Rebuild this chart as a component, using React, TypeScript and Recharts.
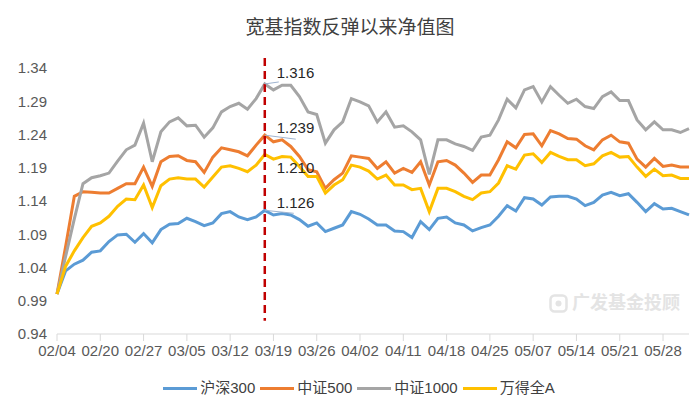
import React from 'react';
import { LineChart, Line, XAxis, YAxis, Legend, ReferenceLine, ReferenceDot } from 'recharts';

const FONT = '"Liberation Sans", "Noto Sans CJK SC", Arial, sans-serif';

const dates = [
  '02/04', '02/05', '02/06', '02/07', '02/19', '02/20', '02/21', '02/22', '02/23', '02/26',
  '02/27', '02/28', '02/29', '03/01', '03/04', '03/05', '03/06', '03/07', '03/08', '03/11',
  '03/12', '03/13', '03/14', '03/15', '03/18', '03/19', '03/20', '03/21', '03/22', '03/25',
  '03/26', '03/27', '03/28', '03/29', '04/01', '04/02', '04/03', '04/08', '04/09', '04/10',
  '04/11', '04/12', '04/15', '04/16', '04/17', '04/18', '04/19', '04/22', '04/23', '04/24',
  '04/25', '04/26', '04/29', '04/30', '05/06', '05/07', '05/08', '05/09', '05/10', '05/13',
  '05/14', '05/15', '05/16', '05/17', '05/20', '05/21', '05/22', '05/23', '05/24', '05/27',
  '05/28', '05/29', '05/30', '05/31',
];

const tickLabels = [
  '02/04', '02/20', '02/27', '03/05', '03/12', '03/19', '03/26', '04/02',
  '04/11', '04/18', '04/25', '05/07', '05/14', '05/21', '05/28',
];

const yTicks = [0.94, 0.99, 1.04, 1.09, 1.14, 1.19, 1.24, 1.29, 1.34];

const hs300 = [
  1.000, 1.035, 1.045, 1.051, 1.063, 1.065, 1.079, 1.089, 1.090, 1.078,
  1.091, 1.077, 1.097, 1.105, 1.106, 1.114, 1.109, 1.103, 1.107, 1.121,
  1.124, 1.116, 1.112, 1.116, 1.126, 1.119, 1.121, 1.119, 1.112, 1.102,
  1.107, 1.094, 1.099, 1.104, 1.124, 1.120, 1.113, 1.104, 1.104, 1.095,
  1.094, 1.085, 1.109, 1.097, 1.114, 1.116, 1.107, 1.104, 1.095, 1.100,
  1.104, 1.117, 1.133, 1.125, 1.145, 1.143, 1.134, 1.146, 1.147, 1.147,
  1.143, 1.133, 1.138, 1.149, 1.153, 1.148, 1.151, 1.138, 1.124, 1.136,
  1.128, 1.129, 1.124, 1.119,
];

const zz500 = [
  1.000, 1.072, 1.147, 1.154, 1.153, 1.152, 1.152, 1.159, 1.166, 1.166,
  1.191, 1.162, 1.199, 1.207, 1.208, 1.201, 1.199, 1.183, 1.206, 1.220,
  1.217, 1.214, 1.208, 1.224, 1.239, 1.229, 1.232, 1.222, 1.207, 1.187,
  1.184, 1.159, 1.172, 1.182, 1.208, 1.206, 1.204, 1.189, 1.199, 1.182,
  1.189, 1.183, 1.199, 1.164, 1.199, 1.201, 1.194, 1.182, 1.168, 1.179,
  1.179, 1.202, 1.229, 1.220, 1.240, 1.241, 1.223, 1.246, 1.241, 1.234,
  1.233, 1.223, 1.217, 1.232, 1.239, 1.229, 1.227, 1.203, 1.191, 1.204,
  1.192, 1.194, 1.191, 1.191,
];

const zz1000 = [
  1.000, 1.057, 1.113, 1.166, 1.175, 1.178, 1.182, 1.200, 1.217, 1.224,
  1.257, 1.199, 1.244, 1.259, 1.265, 1.253, 1.254, 1.236, 1.250, 1.274,
  1.282, 1.287, 1.278, 1.294, 1.316, 1.307, 1.314, 1.314, 1.297, 1.274,
  1.270, 1.227, 1.247, 1.259, 1.294, 1.289, 1.283, 1.259, 1.274, 1.251,
  1.253, 1.244, 1.232, 1.180, 1.232, 1.232, 1.226, 1.222, 1.216, 1.236,
  1.239, 1.262, 1.293, 1.280, 1.307, 1.312, 1.289, 1.312, 1.299, 1.287,
  1.293, 1.282, 1.279, 1.297, 1.304, 1.291, 1.291, 1.262, 1.247, 1.259,
  1.247, 1.247, 1.243, 1.249,
];

const wdqa = [
  1.000, 1.042, 1.065, 1.085, 1.102, 1.107, 1.117, 1.132, 1.143, 1.142,
  1.164, 1.130, 1.163, 1.173, 1.175, 1.173, 1.173, 1.161, 1.176, 1.191,
  1.193, 1.189, 1.184, 1.194, 1.210, 1.203, 1.207, 1.206, 1.192, 1.177,
  1.177, 1.152, 1.164, 1.172, 1.194, 1.191, 1.185, 1.173, 1.179, 1.164,
  1.164, 1.157, 1.159, 1.124, 1.159, 1.159, 1.154, 1.147, 1.142, 1.152,
  1.154, 1.167, 1.193, 1.188, 1.209, 1.211, 1.198, 1.213, 1.207, 1.202,
  1.202, 1.193, 1.196, 1.208, 1.213, 1.206, 1.207, 1.191, 1.177, 1.188,
  1.178, 1.179, 1.174, 1.174,
];

const seriesNames = ['沪深300', '中证500', '中证1000', '万得全A'];
const peakDate = '03/18';
const titleText = '宽基指数反弹以来净值图';
const watermarkText = '广发基金投顾';

const series = [
  { key: 'hs300', name: seriesNames[0], values: hs300, color: '#5B9BD5', dx: 12, dy: -8, lx: 29, ly: 3 },
  { key: 'zz500', name: seriesNames[1], values: zz500, color: '#ED7D31', dx: 12, dy: -8, lx: 31, ly: 4 },
  { key: 'zz1000', name: seriesNames[2], values: zz1000, color: '#A5A5A5', dx: 12, dy: -11, lx: 14, ly: -2 },
  { key: 'wdqa', name: seriesNames[3], values: wdqa, color: '#FFC000', dx: 12, dy: 13, lx: 0, ly: 0 },
];

const data = dates.map((d, i) => {
  const row: Record<string, string | number> = { date: d };
  series.forEach((s) => {
    row[s.key] = s.values[i];
  });
  return row;
});

const peakIdx = dates.indexOf(peakDate);

const makeLabel = (value: number, dx: number, dy: number, lx: number, ly: number) => (props: any) => {
  const vb = props.viewBox || {};
  const cx = (vb.x || 0) + (vb.width || 0) / 2;
  const cy = (vb.y || 0) + (vb.height || 0) / 2;
  return (
    <g>
      {lx !== 0 ? (
        <line x1={cx} y1={cy} x2={cx + lx} y2={cy + ly} stroke="#9FB4D0" strokeWidth={1} />
      ) : null}
      <text
        x={cx + dx}
        y={cy + dy}
        dominantBaseline="central"
        fontSize={15}
        fill="#262626"
        fontFamily={FONT}
      >
        {value.toFixed(3)}
      </text>
    </g>
  );
};

const renderLegend = () => (
  <div
    style={{
      display: 'flex',
      justifyContent: 'center',
      alignItems: 'center',
      height: 20,
      width: 700,
      paddingLeft: 18,
      boxSizing: 'border-box',
      fontFamily: FONT,
      fontSize: 15,
      color: '#404040',
      lineHeight: '20px',
    }}
  >
    {series.map((s, i) => (
      <div key={s.key} style={{ display: 'flex', alignItems: 'center', marginLeft: i ? 5 : 0 }}>
        <span style={{ display: 'inline-block', width: 34, height: 3, background: s.color, marginRight: 3 }} />
        <span>{s.name}</span>
      </div>
    ))}
  </div>
);

export default function App() {
  return (
    <div style={{ position: 'absolute', left: 0, top: 0, width: 700, height: 413, background: '#ffffff', fontFamily: FONT }}>
      <div
        style={{
          position: 'absolute',
          left: 0,
          top: 16,
          width: 700,
          textAlign: 'center',
          fontSize: 19,
          lineHeight: '24px',
          color: '#404040',
          fontFamily: FONT,
        }}
      >
        {titleText}
      </div>
      <div
        style={{
          position: 'absolute',
          left: 549,
          top: 292,
          display: 'flex',
          alignItems: 'center',
          color: '#E4E4E4',
          fontSize: 18,
          fontWeight: 700,
          fontFamily: FONT,
          lineHeight: '22px',
        }}
      >
        <svg width={19} height={19} style={{ marginRight: 4 }}>
          <rect x={1.5} y={1.5} width={16} height={16} rx={4} fill="none" stroke="#E4E4E4" strokeWidth={2.5} />
          <circle cx={9.5} cy={9.5} r={3} fill="#E4E4E4" />
        </svg>
        <span>{watermarkText}</span>
      </div>
      <div style={{ position: 'absolute', left: 0, top: 0 }}>
        <LineChart
          width={700}
          height={413}
          data={data}
          margin={{ top: 68, right: 11, left: 7, bottom: 15 }}
          style={{ fontFamily: FONT }}
        >
          <XAxis
            dataKey="date"
            ticks={tickLabels}
            interval={0}
            height={44}
            axisLine={{ stroke: '#D9D9D9' }}
            tickLine={{ stroke: '#D9D9D9' }}
            tickSize={7}
            tickMargin={4}
            tick={{ fill: '#595959', fontSize: 15, fontFamily: FONT }}
          />
          <YAxis
            domain={[0.94, 1.34]}
            ticks={yTicks}
            width={50}
            axisLine={false}
            tickLine={false}
            tickSize={0}
            tickMargin={10}
            allowDataOverflow
            tickFormatter={(v: number) => v.toFixed(2)}
            tick={{ fill: '#595959', fontSize: 15, fontFamily: FONT }}
          />
          <Legend verticalAlign="bottom" content={renderLegend} wrapperStyle={{ left: 0, width: 700 }} />
          {series.map((s) => (
            <Line
              key={s.key}
              type="linear"
              dataKey={s.key}
              name={s.name}
              stroke={s.color}
              strokeWidth={3}
              dot={false}
              activeDot={false}
              isAnimationActive={false}
            />
          ))}
          <ReferenceLine
            segment={[
              { x: peakDate, y: 1.355 },
              { x: peakDate, y: 0.96 },
            ]}
            stroke="#C00000"
            strokeWidth={2.5}
            strokeDasharray="8 5"
            ifOverflow="visible"
          />
          {series.map((s) => (
            <ReferenceDot
              key={'dot-' + s.key}
              x={peakDate}
              y={s.values[peakIdx]}
              r={0}
              fill="none"
              stroke="none"
              ifOverflow="visible"
              label={{ content: makeLabel(s.values[peakIdx], s.dx, s.dy, s.lx, s.ly) }}
            />
          ))}
        </LineChart>
      </div>
    </div>
  );
}
